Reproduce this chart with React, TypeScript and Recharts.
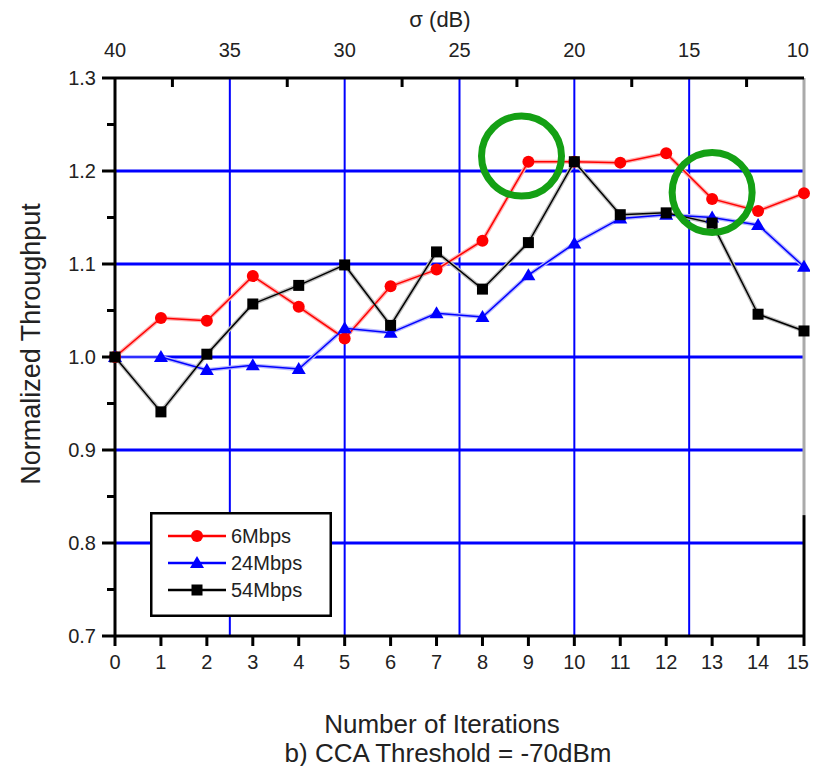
import React from "react";
import {
  LineChart,
  Line,
  XAxis,
  YAxis,
  ReferenceLine,
  ReferenceDot,
  Legend,
} from "recharts";

// iteration index on the bottom axis
const iterations = [0, 1, 2, 3, 4, 5, 6, 7, 8, 9, 10, 11, 12, 13, 14, 15];
const mbps6 = [1.0, 1.042, 1.039, 1.087, 1.054, 1.02, 1.076, 1.094, 1.125, 1.21, 1.21, 1.209, 1.219, 1.17, 1.157, 1.176];
const mbps24 = [1.0, 1.0, 0.986, 0.991, 0.987, 1.031, 1.026, 1.047, 1.043, 1.088, 1.122, 1.149, 1.153, 1.15, 1.142, 1.097];
const mbps54 = [1.0, 0.941, 1.003, 1.057, 1.077, 1.099, 1.034, 1.113, 1.073, 1.123, 1.21, 1.153, 1.155, 1.144, 1.046, 1.028];

const yTicks = [0.7, 0.75, 0.8, 0.85, 0.9, 0.95, 1.0, 1.05, 1.1, 1.15, 1.2, 1.25, 1.3];
const sigmaTicks = [40, 37.5, 35, 32.5, 30, 27.5, 25, 22.5, 20, 17.5, 15, 12.5, 10];
const gridY = [0.8, 0.9, 1.0, 1.1, 1.2];
const gridX = [2.5, 5, 7.5, 10, 12.5];
const highlights = [
  { x: 8.85, y: 1.216 },
  { x: 13.0, y: 1.177 },
];

const series = [
  { key: "m6", name: "6Mbps", color: "#ff0000", shade: "#ffb0b0", shape: "circle" },
  { key: "m24", name: "24Mbps", color: "#0000ff", shade: "#b8b8ff", shape: "triangle" },
  { key: "m54", name: "54Mbps", color: "#000000", shade: "#bdbdbd", shape: "square" },
];

const data = iterations.map((it, i) => ({
  it,
  m6: mbps6[i],
  m24: mbps24[i],
  m54: mbps54[i],
}));

const FONT = "'Liberation Sans', Arial, Helvetica, sans-serif";
const W = 818;
const H = 774;

function Marker({ cx, cy, shape, color }: any) {
  if (shape === "circle") return <circle cx={cx} cy={cy} r={6} fill={color} />;
  if (shape === "triangle")
    return (
      <polygon
        points={`${cx},${cy - 7} ${cx - 7},${cy + 5} ${cx + 7},${cy + 5}`}
        fill={color}
      />
    );
  return <rect x={cx - 5.5} y={cy - 5.5} width={11} height={11} fill={color} />;
}

const LeftTick = ({ x, y, payload }: any) => {
  const major = Math.round(payload.value * 100) % 10 === 0;
  return (
    <g>
      <line x1={x} x2={x - (major ? 13 : 8)} y1={y} y2={y} stroke="#000" strokeWidth={3} />
      {major && (
        <text x={x - 19} y={y + 7} textAnchor="end" fontSize={20} fontFamily={FONT} fill="#222">
          {payload.value.toFixed(1)}
        </text>
      )}
    </g>
  );
};

const BottomTick = ({ x, y, payload }: any) => {
  const last = payload.value === 15;
  return (
    <g>
      <line x1={x} x2={x} y1={y} y2={y + 10} stroke="#000" strokeWidth={3} />
      <text
        x={last ? x + 5 : x}
        y={y + 33}
        textAnchor={last ? "end" : "middle"}
        fontSize={20}
        fontFamily={FONT}
        fill="#222"
      >
        {payload.value}
      </text>
    </g>
  );
};

const TopTick = ({ x, y, payload }: any) => {
  const sigma = 40 - payload.value * 2;
  const major = sigma % 5 === 0;
  const last = sigma === 10;
  return (
    <g>
      {!major && <line x1={x} x2={x} y1={y} y2={y + 9} stroke="#000" strokeWidth={3} />}
      {major && (
        <text
          x={last ? x + 5 : x}
          y={y - 21}
          textAnchor={last ? "end" : "middle"}
          fontSize={20}
          fontFamily={FONT}
          fill="#222"
        >
          {sigma}
        </text>
      )}
    </g>
  );
};

function LegendBox() {
  return (
    <svg width={182} height={105} style={{ display: "block" }}>
      <rect x={1.25} y={1.25} width={179.5} height={102.5} fill="#fff" stroke="#000" strokeWidth={2.5} />
      {series.map((s, i) => {
        const cy = 24 + i * 27;
        return (
          <g key={s.key}>
            <line x1={18} x2={76} y1={cy} y2={cy} stroke={s.color} strokeWidth={2.5} />
            <Marker cx={47} cy={cy} shape={s.shape} color={s.color} />
            <text x={81} y={cy + 7} fontSize={20} fontFamily={FONT} fill="#222">
              {s.name}
            </text>
          </g>
        );
      })}
    </svg>
  );
}

export default function App() {
  return (
    <div style={{ position: "relative", width: W, height: H, margin: -8, overflow: "hidden" }}>
      <LineChart
        width={W}
        height={H}
        data={data}
        margin={{ top: 48, right: 14, bottom: 108, left: 55 }}
      >
        <XAxis
          dataKey="it"
          type="number"
          domain={[0, 15]}
          ticks={iterations}
          interval={0}
          height={30}
          axisLine={{ stroke: "#000", strokeWidth: 3 }}
          tickLine={false}
          tickSize={0}
          tickMargin={0}
          tick={<BottomTick />}
        />
        <XAxis
          xAxisId="top"
          orientation="top"
          dataKey="it"
          type="number"
          domain={[0, 15]}
          ticks={sigmaTicks.map((s) => (40 - s) / 2)}
          interval={0}
          height={30}
          axisLine={{ stroke: "#000", strokeWidth: 3 }}
          tickLine={false}
          tickSize={0}
          tickMargin={0}
          tick={<TopTick />}
        />
        <YAxis
          type="number"
          domain={[0.7, 1.3]}
          ticks={yTicks}
          interval={0}
          width={60}
          axisLine={{ stroke: "#000", strokeWidth: 3 }}
          tickLine={false}
          tickSize={0}
          tickMargin={0}
          tick={<LeftTick />}
        />
        {gridY.map((v) => (
          <ReferenceLine key={"gy" + v} y={v} stroke="#0000ff" strokeWidth={3} />
        ))}
        {gridX.map((v) => (
          <ReferenceLine key={"gx" + v} x={v} stroke="#0000ff" strokeWidth={2} />
        ))}
        <ReferenceLine
          segment={[{ x: 15, y: 0.7 }, { x: 15, y: 0.83 }]}
          stroke="#000"
          strokeWidth={3}
        />
        <ReferenceLine
          segment={[{ x: 15, y: 0.83 }, { x: 15, y: 1.3 }]}
          stroke="#aaaaaa"
          strokeWidth={3}
        />
        {series.map((s) => (
          <Line
            key={s.key + "-shade"}
            type="linear"
            dataKey={s.key}
            stroke={s.shade}
            strokeWidth={4}
            isAnimationActive={false}
            dot={false}
            activeDot={false}
            legendType="none"
          />
        ))}
        {series.map((s) => (
          <Line
            key={s.key}
            type="linear"
            dataKey={s.key}
            name={s.name}
            stroke={s.color}
            strokeWidth={1.5}
            isAnimationActive={false}
            dot={(p: any) => (
              <Marker key={s.key + p.index} cx={p.cx} cy={p.cy} shape={s.shape} color={s.color} />
            )}
            activeDot={false}
          />
        ))}
        {highlights.map((h, i) => (
          <ReferenceDot
            key={"hl" + i}
            x={h.x}
            y={h.y}
            r={40}
            fill="none"
            stroke="#14a014"
            strokeWidth={7}
          />
        ))}
        <Legend
          layout="vertical"
          align="center"
          verticalAlign="middle"
          wrapperStyle={{ left: 150, top: 512, width: 182, height: 105 }}
          content={() => <LegendBox />}
        />
      </LineChart>
      <svg
        width={W}
        height={H}
        style={{ position: "absolute", left: 0, top: 0, pointerEvents: "none" }}
      >
        <text x={440} y={27} textAnchor="middle" fontSize={22} fontFamily={FONT} fill="#222">
          σ (dB)
        </text>
        <text x={442} y={733} textAnchor="middle" fontSize={26} fontFamily={FONT} fill="#222">
          Number of Iterations
        </text>
        <text x={448} y={762} textAnchor="middle" fontSize={26} fontFamily={FONT} fill="#222">
          b) CCA Threshold = -70dBm
        </text>
        <text
          x={31}
          y={344}
          transform="rotate(-90 31 344)"
          textAnchor="middle"
          dominantBaseline="central"
          fontSize={27}
          fontFamily={FONT}
          fill="#222"
        >
          Normalized Throughput
        </text>
      </svg>
    </div>
  );
}
